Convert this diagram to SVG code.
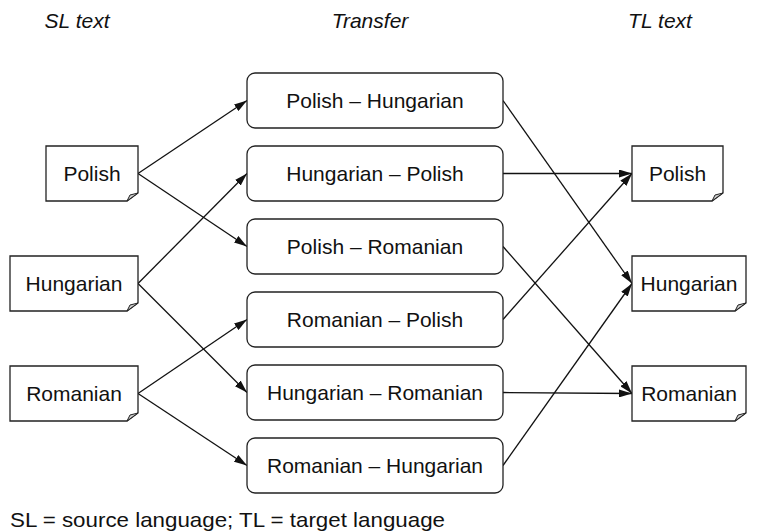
<svg xmlns="http://www.w3.org/2000/svg" width="757" height="532" viewBox="0 0 757 532">
  <style>
    text { font-family: "Liberation Sans", Arial, sans-serif; font-size: 21px; fill: #111; }
    .hdr { font-style: italic; text-anchor: middle; }
    .lbl { text-anchor: middle; }
    .doc { fill: #fff; stroke: #222; stroke-width: 1.3; }
    .fold { fill: #ccc; stroke: #222; stroke-width: 1; }
    .box { fill: #fff; stroke: #222; stroke-width: 1.3; }
    .edge { fill: none; stroke: #111; stroke-width: 1.3; marker-end: url(#arrow); }
  </style>
  <defs>
    <marker id="arrow" viewBox="0 0 13 8" refX="13" refY="4" markerWidth="13" markerHeight="8" markerUnits="userSpaceOnUse" orient="auto">
      <path d="M0,0 L13,4 L0,8 Z" fill="#111"/>
    </marker>
  </defs>

  <!-- column headings -->
  <text class="hdr" x="77" y="28">SL text</text>
  <text class="hdr" x="370" y="28">Transfer</text>
  <text class="hdr" x="660" y="28">TL text</text>

  <!-- connectors -->
  <g id="connectors">
    <line class="edge" x1="138" y1="173.5" x2="247" y2="100.5"/>
    <line class="edge" x1="138" y1="173.5" x2="247" y2="246.5"/>
    <line class="edge" x1="138" y1="283.5" x2="247" y2="173.5"/>
    <line class="edge" x1="138" y1="283.5" x2="247" y2="392.5"/>
    <line class="edge" x1="138" y1="393.5" x2="247" y2="319.5"/>
    <line class="edge" x1="138" y1="393.5" x2="247" y2="465.5"/>
    <line class="edge" x1="503" y1="100.5" x2="632" y2="283.5"/>
    <line class="edge" x1="503" y1="173.5" x2="632" y2="173.5"/>
    <line class="edge" x1="503" y1="246.5" x2="632" y2="393.5"/>
    <line class="edge" x1="503" y1="319.5" x2="632" y2="173.5"/>
    <line class="edge" x1="503" y1="392.5" x2="632" y2="393.5"/>
    <line class="edge" x1="503" y1="465.5" x2="632" y2="283.5"/>
  </g>

  <!-- source-language documents -->
  <g id="sl-polish">
    <path class="doc" d="M46,146 H138 V193 L127,201 H46 Z"/>
    <path class="fold" d="M127,201 L130,195 L138,193 Z"/>
    <text class="lbl" x="92" y="181">Polish</text>
  </g>
  <g id="sl-hungarian">
    <path class="doc" d="M10,256 H138 V303 L127,311 H10 Z"/>
    <path class="fold" d="M127,311 L130,305 L138,303 Z"/>
    <text class="lbl" x="74" y="291">Hungarian</text>
  </g>
  <g id="sl-romanian">
    <path class="doc" d="M10,366 H138 V413 L127,421 H10 Z"/>
    <path class="fold" d="M127,421 L130,415 L138,413 Z"/>
    <text class="lbl" x="74" y="401">Romanian</text>
  </g>

  <!-- transfer modules -->
  <g id="t-pl-hu">
    <rect class="box" x="247" y="73" width="256" height="55" rx="8"/>
    <text class="lbl" x="375" y="108">Polish – Hungarian</text>
  </g>
  <g id="t-hu-pl">
    <rect class="box" x="247" y="146" width="256" height="55" rx="8"/>
    <text class="lbl" x="375" y="181">Hungarian – Polish</text>
  </g>
  <g id="t-pl-ro">
    <rect class="box" x="247" y="219" width="256" height="55" rx="8"/>
    <text class="lbl" x="375" y="254">Polish – Romanian</text>
  </g>
  <g id="t-ro-pl">
    <rect class="box" x="247" y="292" width="256" height="55" rx="8"/>
    <text class="lbl" x="375" y="327">Romanian – Polish</text>
  </g>
  <g id="t-hu-ro">
    <rect class="box" x="247" y="365" width="256" height="55" rx="8"/>
    <text class="lbl" x="375" y="400">Hungarian – Romanian</text>
  </g>
  <g id="t-ro-hu">
    <rect class="box" x="247" y="438" width="256" height="55" rx="8"/>
    <text class="lbl" x="375" y="473">Romanian – Hungarian</text>
  </g>

  <!-- target-language documents -->
  <g id="tl-polish">
    <path class="doc" d="M632,146 H723 V193 L712,201 H632 Z"/>
    <path class="fold" d="M712,201 L715,195 L723,193 Z"/>
    <text class="lbl" x="677.5" y="181">Polish</text>
  </g>
  <g id="tl-hungarian">
    <path class="doc" d="M632,256 H746 V303 L735,311 H632 Z"/>
    <path class="fold" d="M735,311 L738,305 L746,303 Z"/>
    <text class="lbl" x="689" y="291">Hungarian</text>
  </g>
  <g id="tl-romanian">
    <path class="doc" d="M632,366 H746 V413 L735,421 H632 Z"/>
    <path class="fold" d="M735,421 L738,415 L746,413 Z"/>
    <text class="lbl" x="689" y="401">Romanian</text>
  </g>

  <!-- legend -->
  <text x="10" y="527" textLength="435" lengthAdjust="spacingAndGlyphs">SL = source language; TL = target language</text>
</svg>
